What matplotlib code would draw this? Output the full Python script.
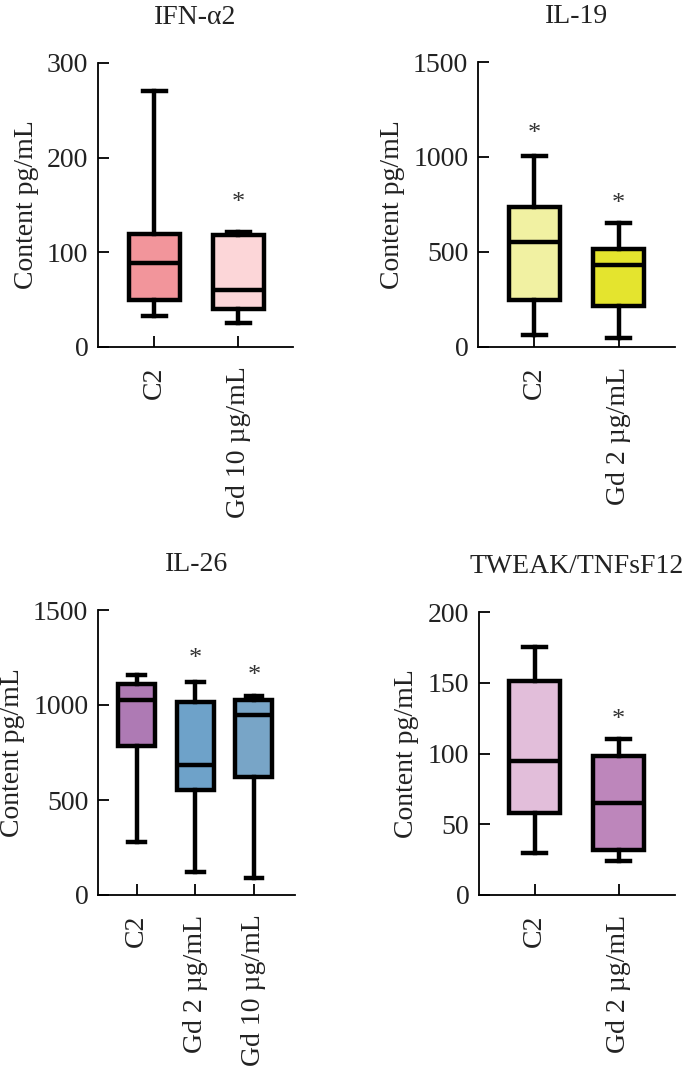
import matplotlib
matplotlib.use('Agg')
import matplotlib.pyplot as plt

plt.rcParams['font.family'] = ['Liberation Serif', 'DejaVu Serif']

# box stats: low whisker, Q1, median, Q3, high whisker
ifn_labels = ['C2', 'Gd 10 µg/mL']
ifn_low = [33, 25]
ifn_q1 = [50, 40]
ifn_med = [89, 60]
ifn_q3 = [119, 118]
ifn_high = [270, 122]
ifn_star = [None, 152]
ifn_colors = ['#F2959B', '#FCD6D8']

il19_labels = ['C2', 'Gd 2 µg/mL']
il19_low = [65, 47]
il19_q1 = [245, 217]
il19_med = [551, 432]
il19_q3 = [739, 515]
il19_high = [1003, 651]
il19_star = [1120, 750]
il19_colors = ['#F1F1A2', '#E4E42E']

il26_labels = ['C2', 'Gd 2 µg/mL', 'Gd 10 µg/mL']
il26_low = [281, 119, 91]
il26_q1 = [786, 551, 619]
il26_med = [1026, 684, 947]
il26_q3 = [1111, 1018, 1026]
il26_high = [1158, 1123, 1047]
il26_star = [None, 1240, 1155]
il26_colors = ['#AE7AB4', '#6EA2C9', '#78A5C7']

tw_labels = ['C2', 'Gd 2 µg/mL']
tw_low = [30, 24]
tw_q1 = [58, 32]
tw_med = [95, 65]
tw_q3 = [151, 98]
tw_high = [175, 110]
tw_star = [None, 124]
tw_colors = ['#E2BEDA', '#BD86BB']

W, H = 685, 1081
fig = plt.figure(figsize=(W / 100, H / 100), dpi=100)


def panel(rect, title, labels, low, q1, med, q3, high, stars, colors,
          ymax, yticks, width, xlim):
    l, t, r, b = rect
    ax = fig.add_axes([l / W, 1 - b / H, (r - l) / W, (b - t) / H])
    stats = []
    for i in range(len(labels)):
        stats.append({'whislo': low[i], 'q1': q1[i], 'med': med[i],
                      'q3': q3[i], 'whishi': high[i], 'fliers': []})
    pos = list(range(1, len(labels) + 1))
    bp = ax.bxp(stats, positions=pos, widths=width, patch_artist=True,
                showfliers=False,
                boxprops=dict(linewidth=3.2, edgecolor='black'),
                medianprops=dict(linewidth=3.2, color='black'),
                whiskerprops=dict(linewidth=3.2, color='black'),
                capprops=dict(linewidth=3.2, color='black'),
                capwidths=width * 0.45)
    for patch, c in zip(bp['boxes'], colors):
        patch.set_facecolor(c)
    for p, s in zip(pos, stars):
        if s is not None:
            ax.text(p, s, '*', ha='center', va='center', fontsize=19,
                    color='#333333')
    ax.set_ylim(0, ymax)
    ax.set_xlim(*xlim)
    ax.set_yticks(yticks)
    ax.set_xticks(pos)
    ax.set_xticklabels(labels, rotation=90, fontsize=20, color='#222222')
    ax.tick_params(axis='y', labelsize=20, direction='in', length=8,
                   width=1.3, pad=7, labelcolor='#222222')
    ax.tick_params(axis='x', direction='in', length=8, width=1.3, pad=14)
    for s in ['top', 'right']:
        ax.spines[s].set_visible(False)
    for s in ['left', 'bottom']:
        ax.spines[s].set_linewidth(1.3)
    ax.set_ylabel('Content pg/mL', fontsize=20, labelpad=6, color='#222222')
    ax.set_title(title, fontsize=20, pad=28, color='#222222')
    return ax


panel((98, 63, 293, 347), 'IFN-α2', ifn_labels, ifn_low, ifn_q1,
      ifn_med, ifn_q3, ifn_high, ifn_star, ifn_colors,
      300, [0, 100, 200, 300], 0.6, (0.33, 2.65))
panel((478, 62, 675, 347), 'IL-19', il19_labels, il19_low, il19_q1,
      il19_med, il19_q3, il19_high, il19_star, il19_colors,
      1500, [0, 500, 1000, 1500], 0.6, (0.33, 2.67))
panel((98, 610, 295, 895), 'IL-26', il26_labels, il26_low, il26_q1,
      il26_med, il26_q3, il26_high, il26_star, il26_colors,
      1500, [0, 500, 1000, 1500], 0.63, (0.34, 3.7))
panel((479, 612, 675, 895), 'TWEAK/TNFsF12', tw_labels, tw_low, tw_q1,
      tw_med, tw_q3, tw_high, tw_star, tw_colors,
      200, [0, 50, 100, 150, 200], 0.6, (0.34, 2.67))

fig.savefig('out.png', dpi=100)
